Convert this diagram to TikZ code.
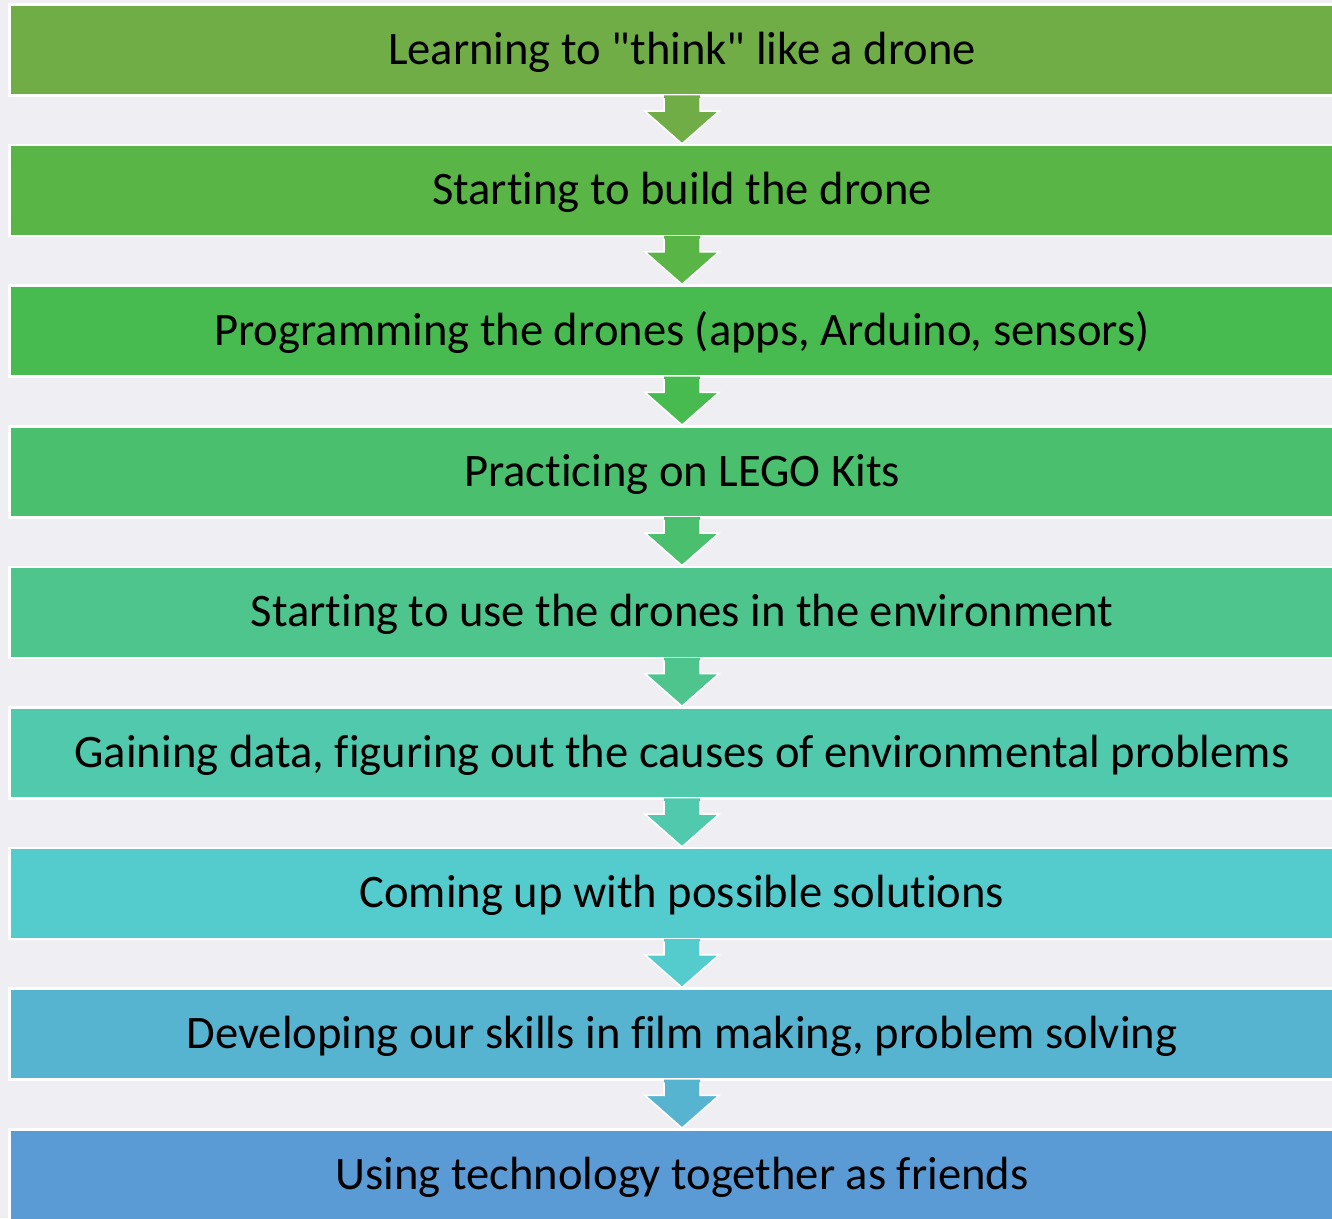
\documentclass[tikz,border=0pt]{standalone}
\usepackage{fontspec}
\setmainfont{Carlito}[RawFeature={-liga;-clig;-calt;-dlig}]
\usepackage{tikz}
\usetikzlibrary{calc}

\definecolor{bgray}{HTML}{EFEEF2}
\definecolor{stepA}{HTML}{70AD47}
\definecolor{stepB}{HTML}{59B546}
\definecolor{stepC}{HTML}{47BB4F}
\definecolor{stepD}{HTML}{4AC06E}
\definecolor{stepE}{HTML}{4DC58D}
\definecolor{stepF}{HTML}{51C9AD}
\definecolor{stepG}{HTML}{54CCCD}
\definecolor{stepH}{HTML}{57B4D1}
\definecolor{stepI}{HTML}{5B9BD5}

\tikzset{
	stagebar/.style={draw=white, line width=2.5pt, inner sep=0pt,
		minimum width=1345pt, minimum height=91pt,
		text height=34pt, text depth=5.4pt,
		font=\fontsize{46.6}{54}\selectfont},
}

% block arrow from the bottom of one bar to the top of the next
\newcommand{\stagearrow}[3]{
	\fill[#3] ($(#1.south)+(-18,1.4)$) -- ($(#1.south)+(-18,-14.5)$) -- ($(#1.south)+(-37,-14.5)$)
		-- (#2.north) -- ($(#1.south)+(37,-14.5)$) -- ($(#1.south)+(18,-14.5)$) -- ($(#1.south)+(18,1.4)$) -- cycle;
	\draw[white, line width=1.5pt, line join=miter] ($(#1.south)+(-18,-1.3)$) -- ($(#1.south)+(-18,-14.5)$) -- ($(#1.south)+(-37,-14.5)$)
		-- (#2.north) -- ($(#1.south)+(37,-14.5)$) -- ($(#1.south)+(18,-14.5)$) -- ($(#1.south)+(18,-1.3)$);
}

\begin{document}
\begin{tikzpicture}[x=1pt, y=1pt]
	\fill[bgray] (0,0) rectangle (1332,1218);
	\useasboundingbox (0,0) rectangle (1332,1218);
	\node[stagebar, fill=stepA] (think) at (682,1168) {Learning to \textquotedbl think\textquotedbl{} like a drone};
	\node[stagebar, fill=stepB] (build) at (682,1027.4) {Starting to build the drone};
	\node[stagebar, fill=stepC] (program) at (682,886.8) {Programming the drones (apps, Arduino, sensors)};
	\node[stagebar, fill=stepD] (lego) at (682,746.2) {Practicing on LEGO Kits};
	\node[stagebar, fill=stepE] (environ) at (682,605.6) {Starting to use the drones in the environment};
	\node[stagebar, fill=stepF] (data) at (682,465) {Gaining data, figuring out the causes of environmental problems};
	\node[stagebar, fill=stepG] (solve) at (682,324.4) {Coming up with possible solutions};
	\node[stagebar, fill=stepH] (skills) at (682,183.8) {Developing our skills in film making, problem solving};
	\node[stagebar, fill=stepI] (friends) at (682,43.2) {Using technology together as friends};
	\stagearrow{think}{build}{stepA}
	\stagearrow{build}{program}{stepB}
	\stagearrow{program}{lego}{stepC}
	\stagearrow{lego}{environ}{stepD}
	\stagearrow{environ}{data}{stepE}
	\stagearrow{data}{solve}{stepF}
	\stagearrow{solve}{skills}{stepG}
	\stagearrow{skills}{friends}{stepH}
\end{tikzpicture}
\end{document}
